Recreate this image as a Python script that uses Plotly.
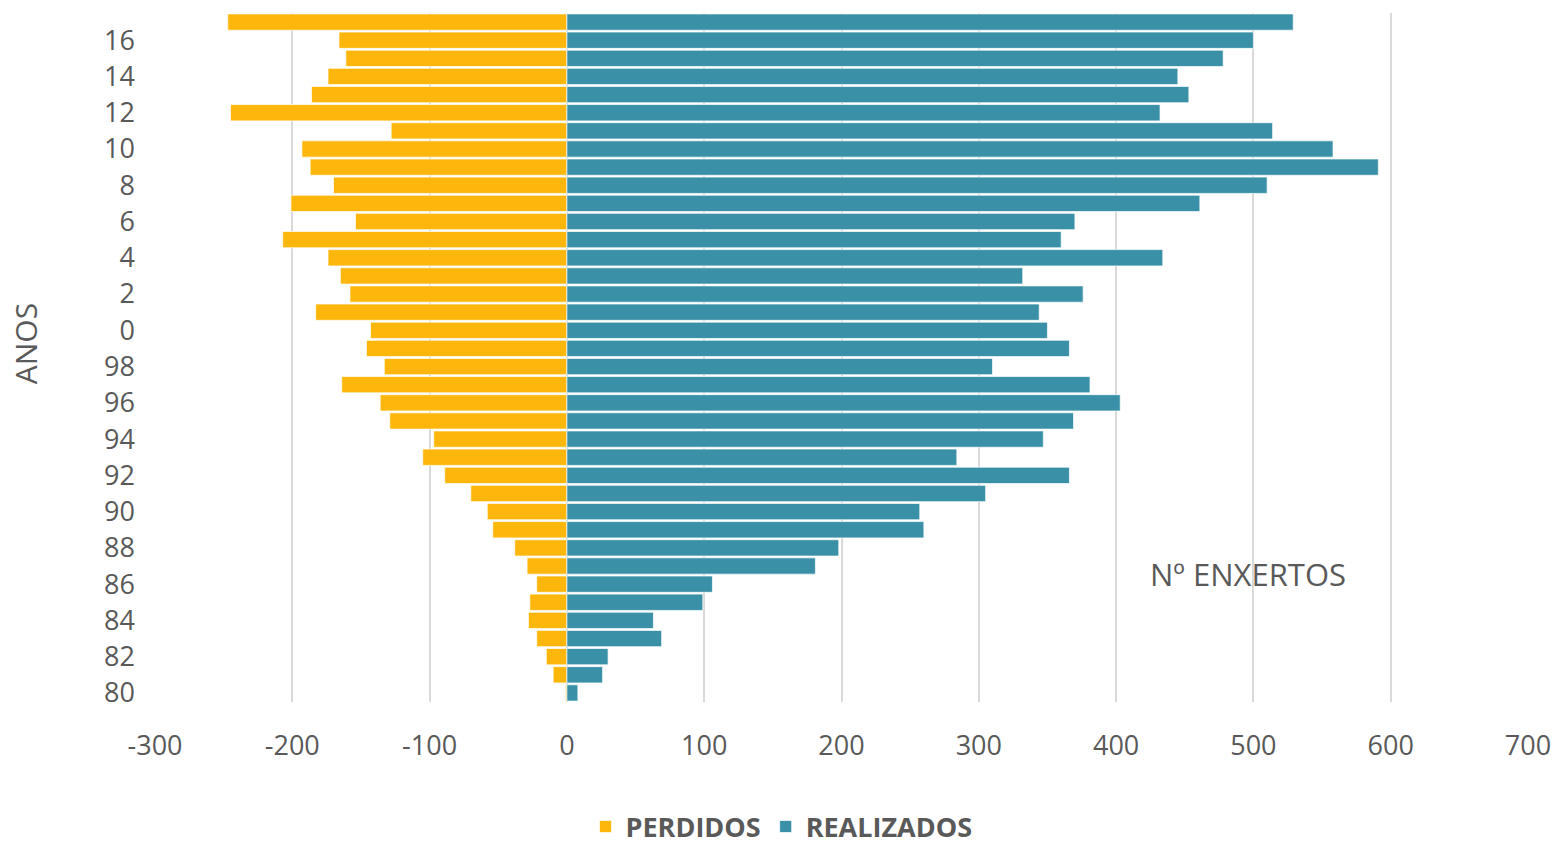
import plotly.graph_objects as go

# Categories (bottom to top)
anos = ["80", "81", "82", "83", "84", "85", "86", "87", "88", "89",
        "90", "91", "92", "93", "94", "95", "96", "97", "98", "99",
        "0", "1", "2", "3", "4", "5", "6", "7", "8", "9",
        "10", "11", "12", "13", "14", "15", "16", "17"]

perdidos = [-1, -10, -15, -22, -28, -27, -22, -29, -38, -54,
            -58, -70, -89, -105, -97, -129, -136, -164, -133, -146,
            -143, -183, -158, -165, -174, -207, -154, -201, -170, -187,
            -193, -128, -245, -186, -174, -161, -166, -247]

realizados = [8, 26, 30, 69, 63, 99, 106, 181, 198, 260,
              257, 305, 366, 284, 347, 369, 403, 381, 310, 366,
              350, 344, 376, 332, 434, 360, 370, 461, 510, 591,
              558, 514, 432, 453, 445, 478, 500, 529]

x_ticks = [-300, -200, -100, 0, 100, 200, 300, 400, 500, 600, 700]
x_tick_labels = ["-300", "-200", "-100", "0", "100", "200", "300", "400", "500", "600", "700"]
y_ticks = anos[0::2]

GRAY = "#595959"
FONT = "Open Sans"

fig = go.Figure()
fig.add_trace(go.Bar(
    y=anos, x=perdidos, orientation="h", name="PERDIDOS", legendgroup="p",
    marker=dict(color="#FDB70C", line=dict(color="rgba(255,255,255,0.7)", width=1)),
))
fig.add_trace(go.Bar(
    y=anos, x=realizados, orientation="h", name="REALIZADOS", legendgroup="r",
    marker=dict(color="#3A91A7", line=dict(color="rgba(255,255,255,0.7)", width=1)),
))

fig.update_layout(
    width=1563, height=846,
    margin=dict(l=155, r=30, t=13, b=144),
    paper_bgcolor="white", plot_bgcolor="white",
    barmode="relative", bargap=0.1,
    font=dict(family=FONT, size=27, color=GRAY),
    showlegend=True,
    legend=dict(
        orientation="h", xref="container", yref="container",
        x=0.5, xanchor="center", y=0.0225, yanchor="middle",
        tracegroupgap=22,
        font=dict(family=FONT, size=27, color=GRAY, weight="bold"),
        itemclick=False,
    ),
    xaxis=dict(
        range=[-300, 700], tickmode="array", tickvals=x_ticks, ticktext=x_tick_labels,
        showgrid=True, gridcolor="#d9d9d9", gridwidth=1.5,
        zeroline=True, zerolinecolor="#d9d9d9", zerolinewidth=1.5,
        showline=False, ticks="", ticklabelstandoff=25,
        tickfont=dict(family=FONT, size=27, color=GRAY),
    ),
    yaxis=dict(
        type="category", tickmode="array", tickvals=y_ticks,
        showgrid=False, zeroline=False, showline=False, ticks="",
        ticklabelstandoff=19,
        tickfont=dict(family=FONT, size=27, color=GRAY),
    ),
    annotations=[
        dict(text="Nº ENXERTOS", xref="x", yref="paper", x=496, y=0.186,
             xanchor="center", yanchor="middle", showarrow=False,
             font=dict(family=FONT, size=31, color=GRAY)),
        dict(text="ANOS", xref="paper", yref="paper", x=-0.0943, y=0.52,
             xanchor="center", yanchor="middle", textangle=-90, showarrow=False,
             font=dict(family=FONT, size=30, color=GRAY)),
    ],
)

fig.write_html("out.html", config={"displayModeBar": False},
               post_script="document.body.style.margin='0';")
